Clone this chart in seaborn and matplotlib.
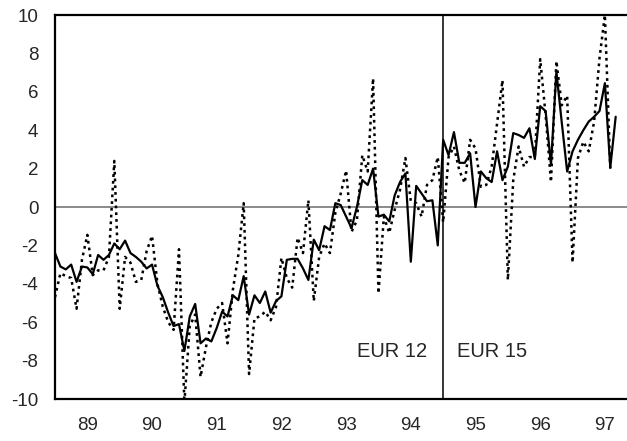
import numpy as np
import pandas as pd
import matplotlib
matplotlib.use("Agg")
import matplotlib.pyplot as plt
import seaborn as sns

# Monthly series, Jan 1989 .. Sep 1997
solid_vals = [
    -2.4, -3.1, -3.25, -3.0, -3.9, -3.1, -3.15, -3.5, -2.5, -2.75,
    -2.5, -1.9, -2.2, -1.75, -2.4, -2.6, -2.85, -3.2, -3.0, -4.1,
    -4.7, -5.5, -6.2, -6.1, -7.5, -5.7, -5.05, -7.1, -6.85, -7.0,
    -6.3, -5.45, -5.7, -4.6, -4.85, -3.6, -5.6, -4.6, -5.0, -4.4,
    -5.5, -4.9, -4.65, -2.75, -2.7, -2.7, -3.2, -3.8, -1.7, -2.25,
    -1.0, -1.2, 0.2, 0.1, -0.5, -1.1, 0.0, 1.4, 1.15, 2.0,
    -0.5, -0.4, -0.75, 0.6, 1.3, 1.75, -2.85, 1.1, 0.7, 0.3,
    0.35, -2.0, 3.5, 2.7, 3.9, 2.3, 2.3, 2.8, 0.0, 1.85,
    1.5, 1.3, 2.9, 1.4, 2.1, 3.85, 3.75, 3.6, 4.1, 2.5,
    5.25, 5.0, 2.2, 7.05, 4.4, 1.85, 2.9, 3.5, 4.0, 4.45,
    4.7, 5.0, 6.45, 2.05, 4.7,
]
dotted_vals = [
    -4.7, -3.45, -3.6, -3.7, -5.3, -2.75, -1.45, -3.55, -3.3, -3.3,
    -2.6, 2.4, -5.3, -2.6, -2.9, -3.9, -3.8, -2.3, -1.5, -4.0,
    -5.2, -6.0, -6.4, -2.2, -10.2, -6.2, -5.6, -8.85, -7.3, -6.0,
    -5.3, -5.0, -7.1, -4.3, -2.5, 0.2, -8.7, -5.8, -5.7, -5.45,
    -5.9, -5.2, -2.65, -3.7, -4.2, -1.6, -2.4, 0.35, -4.9, -2.6,
    -1.9, -2.4, -0.3, 0.7, 1.9, -1.3, -0.7, 2.7, 1.85, 6.7,
    -4.5, -0.5, -1.35, -0.15, 0.9, 2.55, 0.3, 0.2, -0.5, 1.15,
    1.4, 2.6, -0.8, 2.6, 3.15, 1.9, 1.25, 3.5, 3.05, 1.05,
    1.15, 2.1, 4.35, 6.6, -3.8, 1.4, 3.15, 2.1, 2.6, 2.6,
    7.7, 4.8, 1.3, 7.6, 5.3, 5.8, -2.9, 2.55, 3.4, 2.9,
    4.45, 7.75, 10.0, 2.0, np.nan,
]
year_labels = ["89", "90", "91", "92", "93", "94", "95", "96", "97"]
y_ticks = list(range(-10, 11, 2))
break_month = 72  # Jan 1995: EUR 12 -> EUR 15

df = pd.DataFrame({
    "month": np.arange(len(solid_vals)),
    "solid": solid_vals,
    "dotted": dotted_vals,
})

sns.set_style("white")
plt.rcParams["font.family"] = ["Liberation Sans", "DejaVu Sans"]

fig = plt.figure(figsize=(6.27, 4.41), dpi=100)
ax = fig.add_axes([55 / 627, 1 - 399 / 441, 1 - 55 / 627, (399 - 15) / 441])

ax.axhline(0, color="#777777", lw=1.2, zorder=1)
ax.axvline(break_month, color="black", lw=1.1, zorder=1)

sns.lineplot(data=df, x="month", y="dotted", ax=ax, color="black", lw=1.8,
             linestyle=(0, (1.1, 1.6)), zorder=2)
sns.lineplot(data=df, x="month", y="solid", ax=ax, color="black", lw=1.6, zorder=3)

ax.set_xlim(0, 106.1)
ax.set_ylim(-10, 10)
ax.set_xticks([6 + 12 * k for k in range(len(year_labels))])
ax.set_xticklabels(year_labels)
ax.set_yticks(y_ticks)
ax.set_yticklabels([str(v) for v in y_ticks])
ax.tick_params(axis="both", length=0, labelsize=13.5)
ax.tick_params(axis="x", pad=13)
ax.tick_params(axis="y", pad=12)
ax.set_xlabel("")
ax.set_ylabel("")

for side in ["left", "top", "bottom"]:
    ax.spines[side].set_linewidth(1.6)
    ax.spines[side].set_color("black")
ax.spines["right"].set_visible(False)

ax.text(69, -7.55, "EUR 12", ha="right", va="center", fontsize=14.5)
ax.text(74.5, -7.55, "EUR 15", ha="left", va="center", fontsize=14.5)

fig.savefig("out.png", dpi=100)
